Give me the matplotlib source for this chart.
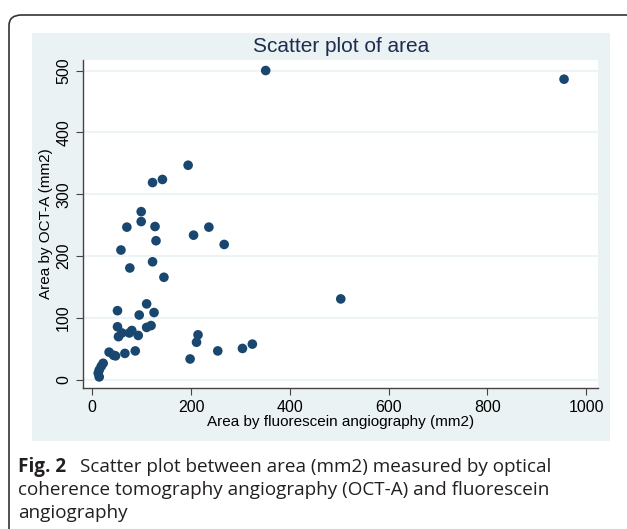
import matplotlib.pyplot as plt
from matplotlib.patches import FancyBboxPatch, Rectangle

# area by fluorescein angiography (x) vs area by OCT-A (y), mm2
fa_area = [351, 955, 503, 122, 142, 99, 70, 99, 127, 129, 58, 122, 76, 145,
           194, 236, 205, 267,
           110, 51, 95, 125, 51, 119, 110, 53, 60, 75, 80, 93, 66, 87, 34,
           43, 47, 22, 18, 14, 12, 14,
           214, 211, 198, 254, 304, 324]
octa_area = [500, 486, 131, 319, 324, 272, 247, 256, 248, 225, 210, 191, 181, 166,
             347, 247, 234, 219,
             123, 112, 105, 109, 86, 88, 85, 70, 76, 76, 80, 72, 43, 47, 45,
             40, 39, 27, 22, 16, 11, 5,
             73, 61, 34, 47, 51, 58]

x_ticks = [0, 200, 400, 600, 800, 1000]
y_ticks = [0, 100, 200, 300, 400, 500]

W, H = 627, 529
fig = plt.figure(figsize=(W / 100, H / 100), dpi=100)
fig.patch.set_facecolor('white')

def fx(px):
    return px / W

def fy(py):
    return 1 - py / H

# rounded frame around the figure + caption
frame = FancyBboxPatch((fx(9), fy(560)), fx(640), 560 / H - 15 / H,
                       boxstyle="round,pad=0,rounding_size=0.02",
                       transform=fig.transFigure, facecolor='none',
                       edgecolor='#333333', linewidth=1.2, clip_on=False,
                       zorder=-5)
fig.patches.append(frame)

# stata-like graph region
fig.patches.append(Rectangle((fx(32), fy(441)), fx(610 - 32), (441 - 33) / H,
                             transform=fig.transFigure, facecolor='#eaf2f3',
                             edgecolor='none', zorder=-5))

ax = fig.add_axes([fx(83), fy(388), fx(598 - 83), (388 - 60) / H])
ax.set_zorder(2)
ax.set_facecolor('white')
navy = '#1a476f'
ax.scatter(fa_area, octa_area, s=48, color=navy, edgecolors='none', zorder=3)

ax.set_xlim(-18.8, 1023.7)
ax.set_ylim(-12.9, 517)
ax.set_xticks(x_ticks)
ax.set_yticks(y_ticks)
ax.grid(axis='y', color='#eaf2f3', linewidth=1.2)
ax.set_axisbelow(True)
for side in ['top', 'right']:
    ax.spines[side].set_visible(False)
for side in ['left', 'bottom']:
    ax.spines[side].set_color('#444444')
    ax.spines[side].set_linewidth(1.0)

ax.tick_params(axis='both', colors='#444444', length=5, labelcolor='black',
               labelsize=11.5)
ax.set_xticklabels([str(v) for v in x_ticks], fontfamily='Liberation Sans')
ax.set_yticklabels([str(v) for v in y_ticks], fontfamily='Liberation Sans',
                   rotation=90, va='center')

ax.set_xlabel('Area by fluorescein angiography (mm2)', fontfamily='Liberation Sans',
              fontsize=11, labelpad=0)
ax.set_ylabel('Area by OCT-A (mm2)', fontfamily='Liberation Sans',
              fontsize=11, labelpad=2)

fig.text(fx(341), fy(47), 'Scatter plot of area', ha='center', va='center',
         fontfamily='Liberation Sans', fontsize=15, color='#1e2d4f')

cap_font = 'Open Sans'
cap_size = 13.6
fig.text(fx(18), fy(467), 'Fig. 2', ha='left', va='center', fontfamily=cap_font,
         fontsize=cap_size, fontweight='bold', color='#231f20')
fig.text(fx(80), fy(467), 'Scatter plot between area (mm2) measured by optical',
         ha='left', va='center', fontfamily=cap_font, fontsize=cap_size, color='#231f20')
fig.text(fx(18), fy(490), 'coherence tomography angiography (OCT-A) and fluorescein',
         ha='left', va='center', fontfamily=cap_font, fontsize=cap_size, color='#231f20')
fig.text(fx(18), fy(513), 'angiography',
         ha='left', va='center', fontfamily=cap_font, fontsize=cap_size, color='#231f20')

fig.savefig('out.png', dpi=100)
